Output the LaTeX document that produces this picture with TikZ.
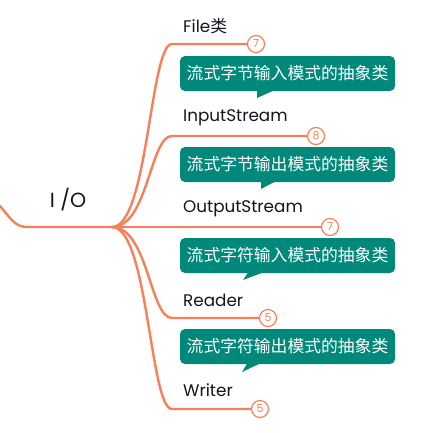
\documentclass[tikz,border=0pt]{standalone}
\usepackage{fontspec}
\setmainfont{Poppins}
\newfontfamily\cjk{Noto Sans CJK SC}
\newfontfamily\latfont{Poppins}
\definecolor{branch}{RGB}{248,128,88}
\definecolor{teal}{RGB}{0,137,123}
\definecolor{ink}{RGB}{20,20,30}
\begin{document}
\begin{tikzpicture}[x=1pt,y=-1pt,
  conn/.style={draw=branch,line width=2.4pt,line cap=round},
  lbl/.style={anchor=west,inner sep=0pt,text=ink,font=\latfont\fontsize{16.8}{19}\selectfont},
  cnt/.style={circle,draw=branch,fill=white,line width=1.2pt,minimum size=17pt,inner sep=0pt,text=branch,font=\latfont\fontsize{11}{12}\selectfont},
  callout/.style={fill=teal,rounded corners=5pt,minimum width=215pt,minimum height=35pt,inner sep=0pt,text=white,font=\cjk\fontsize{16.8}{18}\selectfont},
  tail/.style={fill=teal}]
\useasboundingbox (0,0) rectangle (433,432);
% root
\coordinate (rs) at (0,206);
\coordinate (rc) at (28,227);
\coordinate (j) at (112,227);
\node[inner sep=0pt,text=ink,font=\latfont\fontsize{20.5}{24}\selectfont] (root) at (68,200) {I /O};
\draw[conn] (rs) .. controls (12,220) and (15,227) .. (rc) -- (j);
% corners
\coordinate (k1) at (172,44);
\coordinate (k2) at (172,136);
\coordinate (k3) at (172,227);
\coordinate (k4) at (172,318);
\coordinate (k5) at (172,409);
% counters
\node[cnt] (c1) at (256,44) {7};
\node[cnt] (c2) at (316,136) {8};
\node[cnt] (c3) at (330,227) {7};
\node[cnt] (c4) at (268,318) {5};
\node[cnt] (c5) at (260,409) {5};
% connectors
\draw[conn] (j) .. controls (148,227) and (150,44) .. (k1) -- (c1.west);
\draw[conn] (j) .. controls (148,227) and (150,136) .. (k2) -- (c2.west);
\draw[conn] (j) -- (k3) -- (c3.west);
\draw[conn] (j) .. controls (148,227) and (150,318) .. (k4) -- (c4.west);
\draw[conn] (j) .. controls (148,227) and (150,409) .. (k5) -- (c5.west);
% labels
\node[lbl] (l1) at (183,26) {File{\cjk 类}};
\node[lbl] (l2) at (183,118) {InputStream};
\node[lbl] (l3) at (183,209) {OutputStream};
\node[lbl] (l4) at (183,300) {Reader};
\node[lbl] (l5) at (183,390) {Writer};
% callouts
\fill[tail] (257,89) -- (257,98) -- (277,89) -- cycle;
\node[callout] (b1) at (287.5,73.5) {流式字节输入模式的抽象类};
\fill[tail] (261,180) -- (261,189) -- (278,180) -- cycle;
\node[callout] (b2) at (287.5,164.5) {流式字节输出模式的抽象类};
\fill[tail] (249,271) -- (243,280) -- (267,271) -- cycle;
\node[callout] (b3) at (287.5,255.5) {流式字符输入模式的抽象类};
\fill[tail] (248,362) -- (242,372) -- (263,362) -- cycle;
\node[callout] (b4) at (287.5,346.5) {流式字符输出模式的抽象类};
\end{tikzpicture}
\end{document}
